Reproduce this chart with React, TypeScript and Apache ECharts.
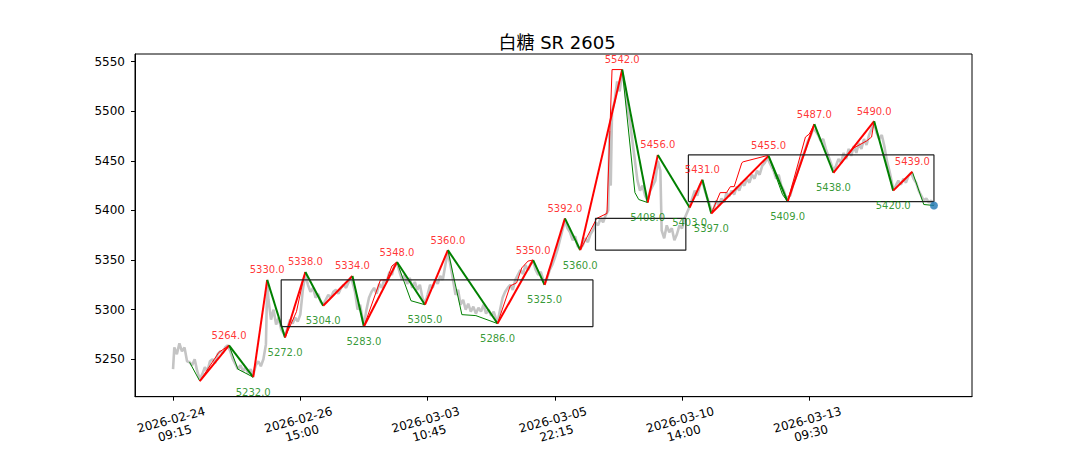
import React, { useEffect, useRef } from "react";
import * as echarts from "echarts";

const titleText = "白糖 SR 2605";
const xTickIndex = [0, 100, 200, 300, 400, 500];
const xTickLabels = [
  "2026-02-24\n09:15",
  "2026-02-26\n15:00",
  "2026-03-03\n10:45",
  "2026-03-05\n22:15",
  "2026-03-10\n14:00",
  "2026-03-13\n09:30",
];
const yTicks = [5250, 5300, 5350, 5400, 5450, 5500, 5550];

// grey close-price line: [bar index, price]
const price: [number, number][] = [
  [0, 5240], [1, 5262], [3, 5255], [5, 5266], [7, 5258], [9, 5262], [11, 5248], [13, 5247], [15, 5244], [17, 5250], [19, 5238], [21, 5230],
  [23, 5235], [25, 5242], [27, 5238], [29, 5248], [31, 5250], [33, 5246], [35, 5255], [37, 5258], [39, 5256], [41, 5262], [43, 5264],
  [45, 5258], [47, 5250], [49, 5245], [51, 5240], [53, 5244], [55, 5238], [57, 5242], [59, 5236], [61, 5240], [63, 5234],
  [65, 5244], [67, 5248], [69, 5243], [71, 5250], [73, 5265], [74, 5328],
  [75, 5310], [77, 5290], [79, 5300], [81, 5285], [83, 5292], [85, 5280], [87, 5276], [88, 5273],
  [90, 5282], [92, 5290], [94, 5286], [96, 5292], [98, 5288], [100, 5295], [102, 5320], [104, 5336],
  [106, 5325], [108, 5318], [110, 5322], [112, 5312], [114, 5316], [116, 5308], [118, 5305],
  [120, 5310], [122, 5315], [124, 5312], [126, 5318], [128, 5320], [130, 5316], [132, 5322], [134, 5325], [136, 5322], [138, 5328], [140, 5333],
  [143, 5318], [145, 5300], [147, 5305], [149, 5290], [150, 5284],
  [152, 5300], [154, 5312], [156, 5318], [158, 5322], [160, 5316], [162, 5326], [164, 5322], [166, 5330], [168, 5328], [170, 5338], [172, 5335], [174, 5345], [176, 5347],
  [178, 5338], [180, 5330], [182, 5335], [184, 5326], [186, 5332], [188, 5322], [190, 5328], [192, 5320], [194, 5325], [196, 5312], [198, 5306],
  [200, 5315], [202, 5325], [204, 5322], [206, 5330], [208, 5326], [210, 5334], [212, 5330], [214, 5345], [216, 5358],
  [218, 5345], [220, 5330], [222, 5315], [224, 5320], [226, 5305], [228, 5310], [230, 5300], [232, 5306], [234, 5298], [236, 5303], [238, 5296], [240, 5302], [242, 5298], [244, 5305], [246, 5296], [248, 5300], [250, 5294], [252, 5298], [254, 5290], [255, 5287],
  [257, 5300], [259, 5312], [261, 5318], [263, 5322], [265, 5325], [267, 5320], [269, 5330], [271, 5335], [273, 5340], [275, 5336], [277, 5345], [279, 5340], [281, 5346], [283, 5349],
  [285, 5340], [287, 5335], [289, 5338], [291, 5330], [292, 5326],
  [294, 5332], [296, 5340], [298, 5345], [300, 5352], [302, 5360], [304, 5370], [306, 5380], [308, 5390],
  [310, 5382], [312, 5378], [314, 5370], [316, 5374], [318, 5364], [320, 5361],
  [322, 5365], [324, 5372], [326, 5368], [328, 5376], [330, 5380], [332, 5388], [334, 5385], [336, 5392], [338, 5388], [340, 5395], [342, 5400], [343, 5480], [344, 5425], [345, 5500], [347, 5510], [349, 5530], [351, 5520], [353, 5540],
  [355, 5525], [357, 5505], [359, 5490], [361, 5470], [363, 5450], [365, 5430], [367, 5420], [369, 5425], [371, 5415], [373, 5410],
  [375, 5420], [377, 5425], [379, 5430], [381, 5450],
  [383, 5440], [384, 5380], [386, 5372], [388, 5385], [390, 5378], [392, 5382], [394, 5370], [396, 5376], [398, 5385], [400, 5382], [402, 5392], [404, 5398], [406, 5404],
  [408, 5412], [410, 5420], [412, 5415], [414, 5425], [416, 5430],
  [418, 5420], [420, 5412], [422, 5405], [423, 5400],
  [425, 5402], [427, 5410], [429, 5405], [431, 5412], [433, 5408], [435, 5418], [437, 5414], [439, 5420], [441, 5416], [443, 5424], [445, 5420], [447, 5428], [449, 5425], [451, 5432], [453, 5428], [455, 5436], [457, 5432], [459, 5440], [461, 5436], [463, 5445], [465, 5448], [467, 5453],
  [470, 5445], [472, 5440], [474, 5432], [476, 5436], [478, 5425], [480, 5420], [482, 5412],
  [485, 5415], [487, 5425], [489, 5432], [491, 5440], [493, 5448], [495, 5455], [497, 5462], [499, 5470], [501, 5475], [503, 5482],
  [505, 5480], [507, 5476], [509, 5470], [511, 5472], [513, 5462], [515, 5455], [517, 5448], [519, 5440],
  [521, 5445], [523, 5452], [525, 5448], [527, 5458], [529, 5452], [531, 5462], [533, 5455], [535, 5465], [537, 5458], [539, 5468], [541, 5462], [543, 5472], [545, 5466], [547, 5476], [549, 5482], [551, 5488],
  [553, 5478], [555, 5472], [557, 5476], [559, 5465], [561, 5450], [563, 5440], [565, 5428], [566, 5421],
  [568, 5425], [570, 5430], [572, 5426], [574, 5432], [576, 5428], [578, 5435], [580, 5438],
  [582, 5432], [584, 5428], [586, 5420], [588, 5415], [590, 5410], [592, 5412], [594, 5408], [596, 5410], [598, 5405],
];

// main strokes (thick zigzag)
const strokeIndex = [21, 44, 63, 74, 88, 104, 118, 141, 150, 176, 198, 216, 255, 283, 292, 308, 320, 353, 373, 381, 406, 416, 423, 468, 483, 504, 519, 551, 566, 581];
const strokePrice = [5228, 5264, 5232, 5330, 5272, 5338, 5304, 5334, 5283, 5348, 5305, 5360, 5286, 5350, 5325, 5392, 5360, 5542, 5408, 5456, 5403, 5431, 5397, 5455, 5409, 5487, 5438, 5490, 5420, 5439];

// sub-level strokes (thin lines)
const subStrokes: [number, number][][] = [
  [[13, 5247], [21, 5228]],
  [[21, 5228], [36, 5257], [44, 5264]],
  [[44, 5264], [51, 5240], [63, 5232]],
  [[88, 5272], [97, 5298], [102, 5328], [104, 5338]],
  [[150, 5283], [163, 5330], [168, 5330], [172, 5344], [176, 5348]],
  [[176, 5348], [187, 5309], [198, 5305]],
  [[216, 5360], [227, 5295], [238, 5294], [255, 5286]],
  [[255, 5286], [265, 5324], [270, 5327], [274, 5342], [279, 5349], [283, 5350]],
  [[320, 5360], [333, 5392], [341, 5397], [345, 5542], [353, 5542]],
  [[353, 5542], [363, 5418], [366, 5411], [373, 5408]],
  [[423, 5397], [430, 5418], [435, 5418], [438, 5424], [441, 5424], [447, 5448], [448, 5449], [466, 5455], [468, 5455]],
  [[468, 5455], [479, 5416], [483, 5409]],
  [[483, 5409], [497, 5474], [500, 5477], [504, 5487]],
  [[519, 5438], [535, 5463], [545, 5470], [549, 5474], [551, 5490]],
  [[581, 5439], [590, 5406], [598, 5405]],
];

// pivot zones
const zoneStart = [85, 332, 405];
const zoneEnd = [330, 403, 598];
const zoneLow = [5283, 5360, 5409];
const zoneHigh = [5330, 5392, 5456];

const lastPoint: [number, number] = [598, 5405];

const RED = "#ff0000";
const GREEN = "#008000";
const FONT = "DejaVu Sans, 'Noto Sans CJK SC', sans-serif";

export default function App() {
  const ref = useRef<HTMLDivElement>(null);
  useEffect(() => {
    if (!ref.current) return;
    const chart = echarts.init(ref.current, null, { renderer: "svg" });
    const series: any[] = [];
    series.push({
      type: "line",
      data: price,
      showSymbol: false,
      symbol: "none",
      silent: true,
      z: 1,
      lineStyle: { color: "#c4c4c4", width: 2.6 },
    });
    subStrokes.forEach((path) => {
      const up = path[path.length - 1][1] > path[0][1];
      series.push({
        type: "line",
        data: path,
        symbol: "none",
        silent: true,
        z: 2,
        lineStyle: { color: up ? RED : GREEN, width: 1 },
      });
    });
    for (let i = 0; i < strokeIndex.length - 1; i++) {
      const up = strokePrice[i + 1] > strokePrice[i];
      series.push({
        type: "line",
        data: [
          [strokeIndex[i], strokePrice[i]],
          [strokeIndex[i + 1], strokePrice[i + 1]],
        ],
        symbol: "none",
        silent: true,
        z: 3,
        lineStyle: { color: up ? RED : GREEN, width: 2 },
      });
    }
    zoneStart.forEach((x0, i) => {
      const x1 = zoneEnd[i];
      const lo = zoneLow[i];
      const hi = zoneHigh[i];
      series.push({
        type: "line",
        data: [
          [x0, lo],
          [x1, lo],
          [x1, hi],
          [x0, hi],
          [x0, lo],
        ],
        symbol: "none",
        silent: true,
        z: 4,
        lineStyle: { color: "#222222", width: 1.2 },
      });
    });
    const highs: [number, number][] = [];
    const lows: [number, number][] = [];
    for (let i = 1; i < strokeIndex.length; i++) {
      const pt: [number, number] = [strokeIndex[i], strokePrice[i]];
      if (strokePrice[i] > strokePrice[i - 1]) highs.push(pt);
      else lows.push(pt);
    }
    series.push({
      type: "scatter",
      data: highs,
      symbolSize: 0,
      silent: true,
      z: 5,
      label: {
        show: true,
        position: "top",
        distance: 5,
        color: RED,
        fontSize: 10,
        fontFamily: FONT,
        formatter: (p: any) => p.value[1].toFixed(1),
      },
    });
    series.push({
      type: "scatter",
      data: lows,
      symbolSize: 0,
      silent: true,
      z: 5,
      label: {
        show: true,
        position: "bottom",
        distance: 10,
        color: GREEN,
        fontSize: 10,
        fontFamily: FONT,
        formatter: (p: any) => p.value[1].toFixed(1),
      },
    });
    series.push({
      type: "scatter",
      data: [lastPoint],
      symbolSize: 8,
      silent: true,
      z: 6,
      itemStyle: { color: "#1f77b4" },
    });

    chart.setOption({
      animation: false,
      graphic: [
        {
          type: "text",
          x: 557,
          y: 42,
          style: {
            text: titleText,
            fontSize: 18,
            fontFamily: FONT,
            fill: "#000",
            align: "center",
            verticalAlign: "middle",
          },
        },
      ],
      grid: {
        left: 135,
        right: 108,
        top: 54,
        bottom: 50,
        show: true,
        borderColor: "#000",
        borderWidth: 1,
        backgroundColor: "transparent",
      },
      xAxis: {
        type: "value",
        min: -29.9,
        max: 627.9,
        splitLine: { show: false },
        axisLine: { show: true, onZero: false, lineStyle: { color: "#000", width: 1 } },
        axisTick: {
          show: true,
          length: 4,
          customValues: xTickIndex,
          lineStyle: { color: "#000" },
        },
        axisLabel: {
          customValues: xTickIndex,
          formatter: (v: number) => {
            const k = xTickIndex.indexOf(Math.round(v));
            return k >= 0 ? xTickLabels[k] : "";
          },
          rotate: 15,
          align: "center",
          verticalAlign: "middle",
          margin: 30,
          lineHeight: 14,
          fontSize: 12,
          color: "#000",
          fontFamily: FONT,
        },
      },
      yAxis: {
        type: "value",
        min: 5212.3,
        max: 5557.7,
        splitLine: { show: false },
        axisLine: { show: true, onZero: false, lineStyle: { color: "#000", width: 1 } },
        axisTick: {
          show: true,
          length: 4,
          customValues: yTicks,
          lineStyle: { color: "#000" },
        },
        axisLabel: {
          customValues: yTicks,
          formatter: (v: number) => String(Math.round(v)),
          margin: 10,
          fontSize: 12,
          color: "#000",
          fontFamily: FONT,
        },
      },
      series,
    });
    return () => chart.dispose();
  }, []);
  return (
    <div
      ref={ref}
      style={{ position: "absolute", left: 0, top: 0, width: 1080, height: 450 }}
    />
  );
}
